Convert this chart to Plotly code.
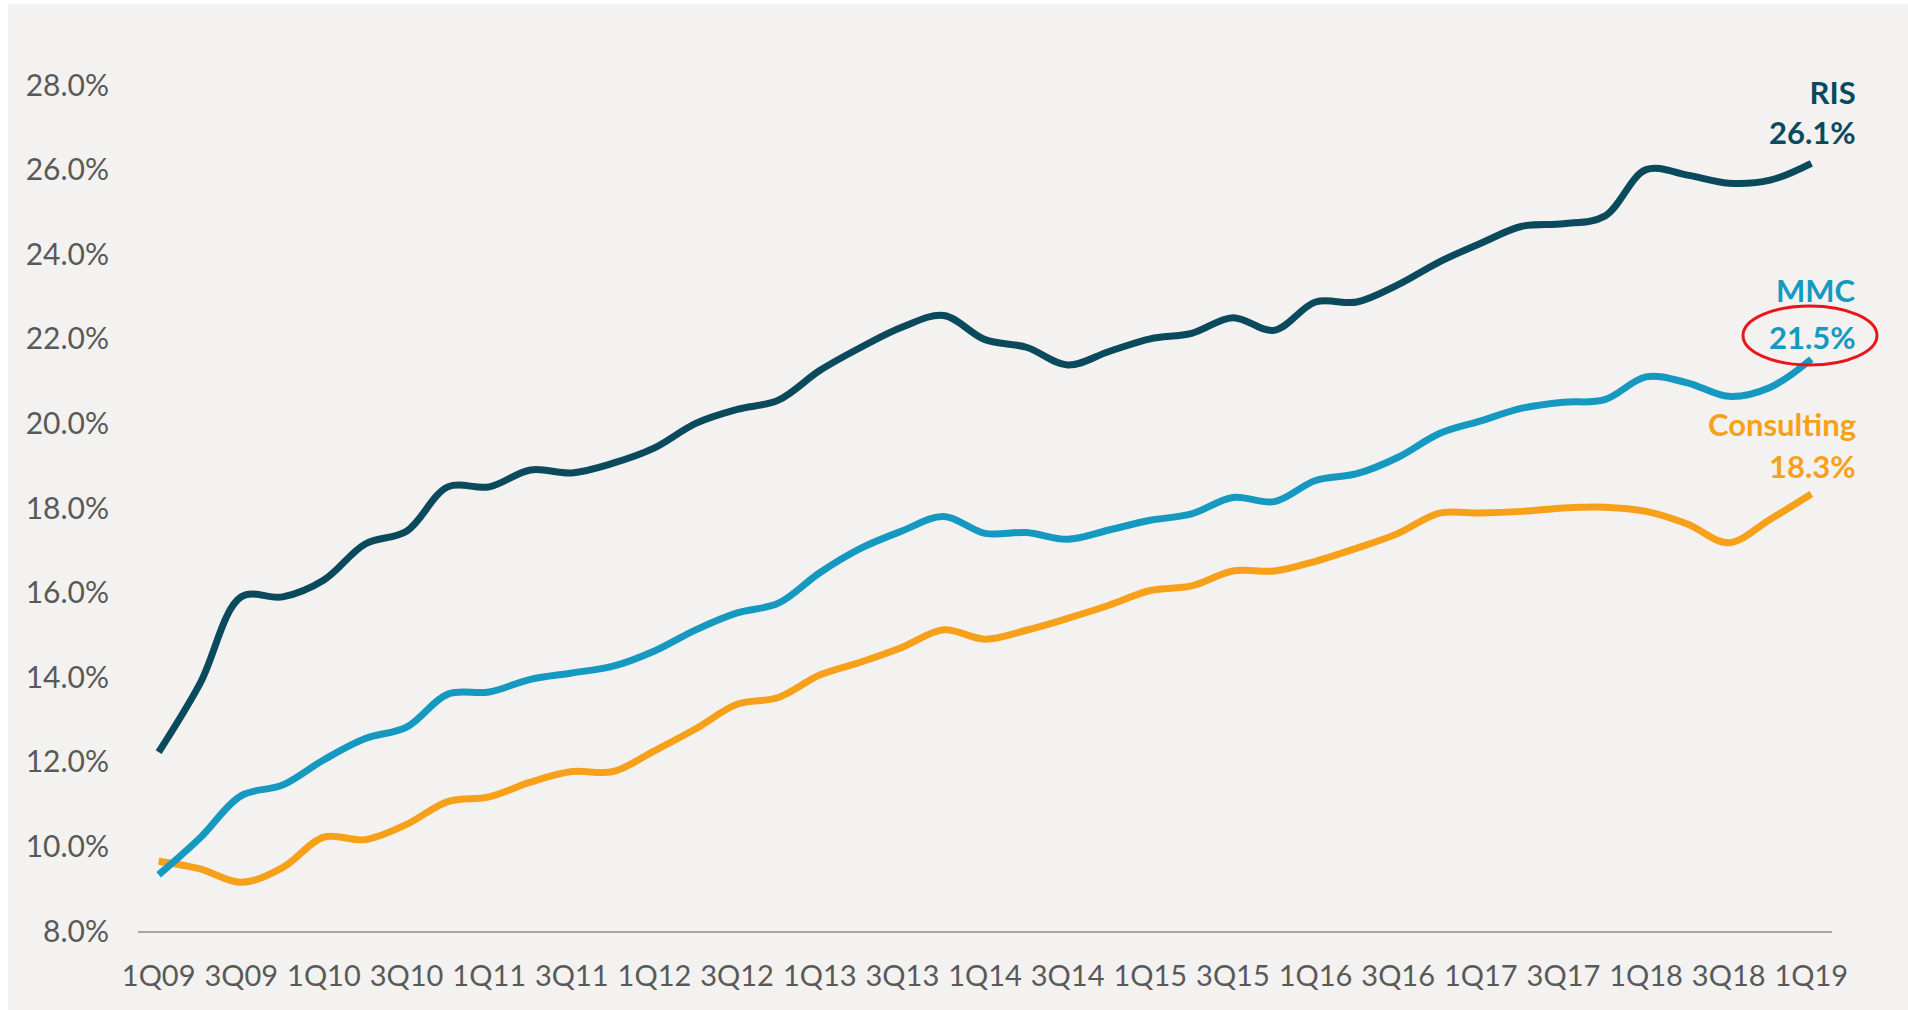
import plotly.graph_objects as go

quarters = ["1Q09", "2Q09", "3Q09", "4Q09", "1Q10", "2Q10", "3Q10", "4Q10",
            "1Q11", "2Q11", "3Q11", "4Q11", "1Q12", "2Q12", "3Q12", "4Q12",
            "1Q13", "2Q13", "3Q13", "4Q13", "1Q14", "2Q14", "3Q14", "4Q14",
            "1Q15", "2Q15", "3Q15", "4Q15", "1Q16", "2Q16", "3Q16", "4Q16",
            "1Q17", "2Q17", "3Q17", "4Q17", "1Q18", "2Q18", "3Q18", "4Q18",
            "1Q19"]

ris = [12.23, 13.85, 15.9, 15.9, 16.3, 17.15, 17.45, 18.5, 18.5, 18.9,
       18.83, 19.06, 19.42, 20.0, 20.33, 20.55, 21.25, 21.8, 22.28, 22.55,
       21.98, 21.8, 21.38, 21.7, 22.0, 22.13, 22.5, 22.2, 22.87, 22.87,
       23.28, 23.82, 24.26, 24.66, 24.72, 24.9, 26.0, 25.87, 25.68, 25.75,
       26.15]

mmc = [9.33, 10.2, 11.2, 11.45, 12.05, 12.55, 12.82, 13.6, 13.65, 13.95,
       14.1, 14.26, 14.62, 15.12, 15.52, 15.75, 16.47, 17.05, 17.46, 17.8,
       17.4, 17.42, 17.26, 17.48, 17.71, 17.86, 18.25, 18.15, 18.65, 18.81,
       19.2, 19.76, 20.06, 20.36, 20.5, 20.56, 21.1, 20.96, 20.64, 20.85,
       21.52]

consulting = [9.65, 9.47, 9.15, 9.5, 10.22, 10.16, 10.52, 11.06, 11.17, 11.52,
              11.77, 11.77, 12.26, 12.78, 13.36, 13.52, 14.05, 14.36, 14.71, 15.12,
              14.9, 15.11, 15.39, 15.7, 16.05, 16.16, 16.51, 16.51, 16.74, 17.05,
              17.4, 17.88, 17.88, 17.92, 18.0, 18.02, 17.92, 17.62, 17.18, 17.73,
              18.33]

tick_idx = list(range(0, len(quarters), 2))
tick_text = [quarters[i] for i in tick_idx]
ytick_vals = [8, 10, 12, 14, 16, 18, 20, 22, 24, 26, 28]
ytick_text = [f"{v:.1f}%" for v in ytick_vals]

C_RIS = "#0B4A5C"
C_MMC = "#1599C0"
C_CON = "#F7A11A"
BG = "#F3F2F0"

x = list(range(len(quarters)))

fig = go.Figure()
for name, vals, col in [("Consulting", consulting, C_CON), ("MMC", mmc, C_MMC), ("RIS", ris, C_RIS)]:
    fig.add_trace(go.Scatter(
        x=x, y=vals, mode="lines", name=name,
        line=dict(color=col, width=7, shape="spline", smoothing=1.0),
        hoverinfo="skip", cliponaxis=False,
    ))

W, H = 1908, 1010
ml, mr, mt, mb = 138, 76, 85, 79
pw, ph = W - ml - mr, H - mt - mb

def px_to_paper_x(p):
    return (p - ml) / pw

def px_to_paper_y(p):
    return (H - mb - p) / ph

shapes = [
    dict(type="rect", xref="paper", yref="paper", layer="below",
         x0=px_to_paper_x(8), x1=px_to_paper_x(W + 5),
         y0=px_to_paper_y(H + 5), y1=px_to_paper_y(4),
         fillcolor=BG, line=dict(width=0)),
    dict(type="circle", xref="paper", yref="paper", layer="above",
         x0=px_to_paper_x(1743), x1=px_to_paper_x(1877),
         y0=px_to_paper_y(365), y1=px_to_paper_y(306),
         line=dict(color="#E8161C", width=3), fillcolor="rgba(0,0,0,0)"),
]

label_font = "Lato, 'Open Sans', sans-serif"
annots = []
for text, py, col in [("RIS<br>26.1%", 112, C_RIS),
                      ("MMC", 290, C_MMC), ("21.5%", 337, C_MMC),
                      ("Consulting", 424, C_CON), ("18.3%", 466, C_CON)]:
    annots.append(dict(
        text="<br>".join(f"<b>{t}</b>" for t in text.split("<br>")),
        xref="paper", yref="paper",
        x=px_to_paper_x(1858), y=px_to_paper_y(py),
        xanchor="right", yanchor="middle", align="right", showarrow=False,
        font=dict(family=label_font, size=31, color=col),
    ))

fig.update_layout(
    width=W, height=H,
    margin=dict(l=ml, r=mr, t=mt, b=mb, pad=0),
    paper_bgcolor="white", plot_bgcolor=BG,
    showlegend=False,
    shapes=shapes, annotations=annots,
    font=dict(family=label_font, size=29, color="#595959"),
    xaxis=dict(
        range=[-0.5, len(quarters) - 0.5], tickmode="array",
        tickvals=tick_idx, ticktext=tick_text,
        showgrid=False, zeroline=False, showline=True,
        linecolor="#A6A6A6", linewidth=2, ticks="",
        ticklabelstandoff=18,
        tickfont=dict(family=label_font, size=29, color="#595959"),
        fixedrange=True,
    ),
    yaxis=dict(
        range=[8, 28], tickmode="array", tickvals=ytick_vals, ticktext=ytick_text,
        showgrid=False, zeroline=False, showline=False, ticks="",
        ticklabelstandoff=28,
        tickfont=dict(family=label_font, size=30, color="#595959"),
        fixedrange=True,
    ),
)

fig.write_html("out.html", config={"displayModeBar": False},
               post_script="document.body.style.margin='0px';document.body.style.overflow='hidden';")
